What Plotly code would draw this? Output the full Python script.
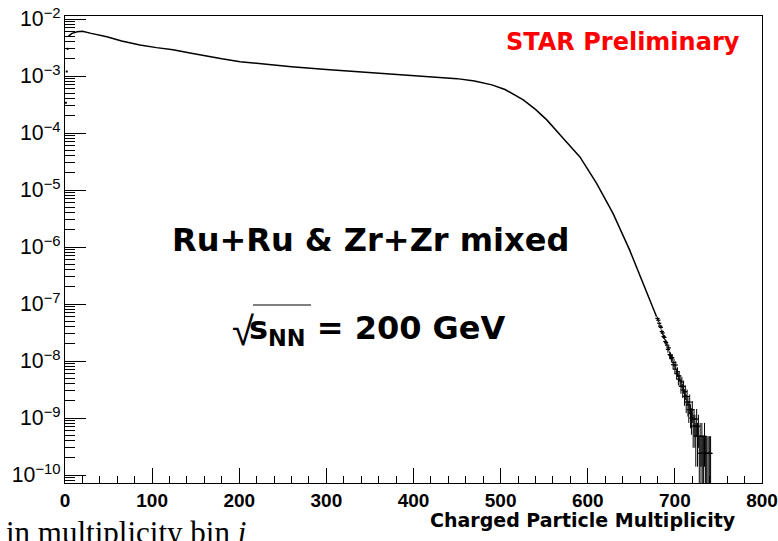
import plotly.graph_objects as go

# ---- data ----
# main (smooth) part of the multiplicity distribution
curve_x = [4, 8, 14, 20, 30, 48, 65, 86, 105, 124, 145, 163, 180, 201, 230, 260,
           300, 340, 380, 420, 450, 470, 490, 505, 515, 526, 540, 553, 572, 591,
           610, 629, 648, 665, 679]
curve_y = [5.0e-3, 5.6e-3, 6.0e-3, 6.1e-3, 5.6e-3, 4.9e-3, 4.1e-3, 3.5e-3, 3.15e-3,
           2.9e-3, 2.5e-3, 2.2e-3, 2.0e-3, 1.78e-3, 1.6e-3, 1.45e-3, 1.3e-3, 1.18e-3,
           1.08e-3, 0.98e-3, 0.9e-3, 0.82e-3, 0.7e-3, 0.58e-3, 0.48e-3, 3.8e-4,
           2.6e-4, 1.7e-4, 8.0e-5, 3.8e-5, 1.32e-5, 3.9e-6, 8.9e-7, 2.0e-7, 6.0e-8]

# first few (low) bins drawn as isolated points
low_x = [1, 2, 3]
low_y = [3.4e-4, 1.2e-3, 3.0e-3]

# fluctuating tail with statistical error bars
tail_x = [680, 681, 682, 683, 684, 685, 686, 687, 688, 689, 690, 691, 692, 693, 694,
          695, 696, 697, 698, 699, 700, 701, 702, 703, 704, 705, 706, 707, 708, 709,
          710, 711, 712, 713, 714, 715, 716, 717, 718, 719, 720, 721, 722, 723, 724,
          725, 726, 727, 728, 729, 730, 731, 732, 733, 734, 735, 736, 737, 739, 740, 741]
tail_y = [5.6e-8, 5.2e-8, 4.6e-8, 4.1e-8, 3.9e-8, 3.3e-8, 3.1e-8, 2.7e-8, 2.6e-8,
          2.2e-8, 2.1e-8, 1.9e-8, 1.6e-8, 1.7e-8, 1.3e-8, 1.25e-8, 1.1e-8, 1.15e-8,
          8.6e-9, 9.4e-9, 7.2e-9, 8.5e-9, 6.0e-9, 6.5e-9, 4.8e-9, 5.5e-9, 4.6e-9,
          3.6e-9, 4.3e-9, 3.1e-9, 3.6e-9, 2.4e-9, 2.9e-9, 1.9e-9, 2.4e-9, 1.7e-9,
          1.4e-9, 1.9e-9, 1.2e-9, 1.0e-9, 1.4e-9, 7.2e-10, 9.6e-10, 7.2e-10, 4.8e-10,
          9.6e-10, 4.8e-10, 7.2e-10, 2.4e-10, 4.8e-10, 2.4e-10, 4.8e-10, 2.4e-10,
          2.4e-10, 4.8e-10, 2.4e-10, 2.4e-10, 2.4e-10, 2.4e-10, 2.4e-10, 2.4e-10]
tail_err = [3.7e-9, 3.5e-9, 3.3e-9, 3.1e-9, 3.1e-9, 2.8e-9, 2.7e-9, 2.5e-9, 2.5e-9,
            2.3e-9, 2.2e-9, 2.1e-9, 2.0e-9, 2.0e-9, 1.8e-9, 1.7e-9, 1.6e-9, 1.7e-9,
            1.4e-9, 1.5e-9, 1.3e-9, 1.4e-9, 1.2e-9, 1.25e-9, 1.07e-9, 1.15e-9, 1.05e-9,
            9.3e-10, 1.0e-9, 8.6e-10, 9.3e-10, 7.6e-10, 8.3e-10, 6.8e-10, 7.6e-10, 6.4e-10,
            5.8e-10, 6.8e-10, 5.4e-10, 4.9e-10, 5.8e-10, 4.2e-10, 4.8e-10, 4.2e-10, 3.4e-10,
            4.8e-10, 3.4e-10, 4.2e-10, 2.4e-10, 3.4e-10, 2.4e-10, 3.4e-10, 2.4e-10,
            2.4e-10, 3.4e-10, 2.4e-10, 2.4e-10, 2.4e-10, 2.4e-10, 2.4e-10, 2.4e-10]

x_range = [0, 800]
y_range_log = [-10.14, -1.947]

fig = go.Figure()
fig.add_trace(go.Scatter(x=curve_x, y=curve_y, mode="lines",
                         line=dict(color="black", width=1.5), showlegend=False,
                         hoverinfo="skip"))
fig.add_trace(go.Scatter(x=low_x, y=low_y, mode="markers",
                         marker=dict(symbol="square", size=2, color="black"),
                         showlegend=False, hoverinfo="skip"))
fig.add_trace(go.Scatter(x=tail_x, y=tail_y, mode="markers",
                         marker=dict(symbol="line-ew", size=3,
                                     line=dict(width=1.2, color="black")),
                         error_y=dict(type="data", array=tail_err, visible=True,
                                      color="black", thickness=1, width=0),
                         showlegend=False, hoverinfo="skip"))

W, H = 778, 541
ml, mr, mt, mb = 65, 16, 16, 58
pw, ph = W - ml - mr, H - mt - mb


def px(xp):
    return (xp - ml) / pw


def py(yp):
    return (H - mb - yp) / ph


fig.update_layout(
    width=W, height=H,
    margin=dict(l=ml, r=mr, t=mt, b=mb, autoexpand=False),
    paper_bgcolor="white", plot_bgcolor="white",
    xaxis=dict(range=x_range, tick0=0, dtick=100, ticks="inside", ticklen=15,
               tickwidth=1, tickcolor="black", showline=True, linecolor="black",
               linewidth=1, mirror=True, showgrid=False, zeroline=False,
               automargin=False,
               tickfont=dict(family="Liberation Sans", size=19, color="black",
                             weight="bold"),
               minor=dict(ticks="inside", ticklen=7, tickcolor="black", dtick=20,
                          showgrid=False)),
    yaxis=dict(type="log", range=y_range_log, dtick=1, ticks="inside", ticklen=21,
               tickwidth=1, tickcolor="black", showline=True, linecolor="black",
               linewidth=1, mirror=True, showgrid=False, zeroline=False,
               automargin=False, exponentformat="power",
               tickfont=dict(family="Liberation Sans", size=17, color="black"),
               minor=dict(ticks="inside", ticklen=10, tickcolor="black", dtick="D1",
                          showgrid=False)),
)

ann = []
ann.append(dict(text="STAR Preliminary", x=px(742), y=py(42.5), xref="paper",
                yref="paper", xanchor="right", yanchor="middle", showarrow=False,
                font=dict(family="DejaVu Sans", size=24, color="#ff0000", weight="bold")))
ann.append(dict(text="Ru+Ru & Zr+Zr mixed", x=px(370), y=py(240.5), xref="paper",
                yref="paper", xanchor="center", yanchor="middle", showarrow=False,
                font=dict(family="DejaVu Sans", size=32, color="black", weight="bold")))
ann.append(dict(text="√", x=px(256), y=py(331), xref="paper", yref="paper",
                xanchor="right", yanchor="middle", showarrow=False,
                font=dict(family="Liberation Sans", size=40, color="black")))
ann.append(dict(text="s<sub>NN</sub> = 200 GeV", x=px(247), y=py(330), xref="paper",
                yref="paper", xanchor="left", yanchor="middle", showarrow=False,
                font=dict(family="DejaVu Sans", size=32, color="black", weight="bold")))
ann.append(dict(text="Charged Particle Multiplicity", x=px(738), y=py(520),
                xref="paper", yref="paper", xanchor="right", yanchor="middle",
                showarrow=False,
                font=dict(family="DejaVu Sans", size=19, color="black", weight="bold")))
ann.append(dict(text="in multiplicity bin <i>i</i>", x=px(4), y=py(513), xref="paper",
                yref="paper", xanchor="left", yanchor="top", showarrow=False,
                font=dict(family="Liberation Serif", size=31, color="black")))
fig.update_layout(annotations=ann)

fig.add_shape(type="line", xref="paper", yref="paper", x0=px(253), x1=px(311),
              y0=py(305), y1=py(305), line=dict(color="black", width=1))

fig.write_html("out.html")
